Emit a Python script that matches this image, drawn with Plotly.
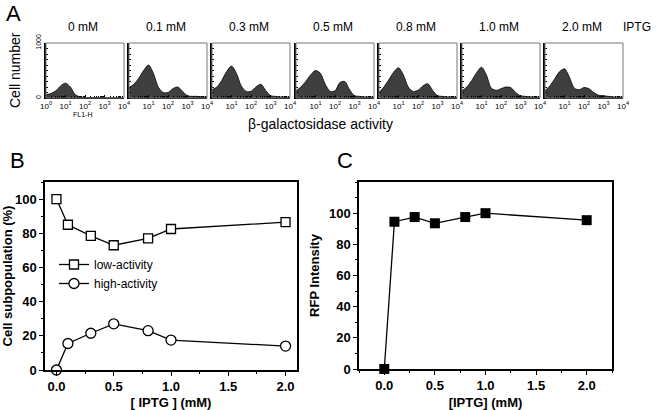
import plotly.graph_objects as go

W, H = 656, 410
FONT = "Arial, Liberation Sans, sans-serif"

# ---------- panel A: flow histograms (log10 FL1-H grid, counts) ----------
iptg_labels = ["0 mM", "0.1 mM", "0.3 mM", "0.5 mM", "0.8 mM", "1.0 mM", "2.0 mM"]
log_fl1 = [0, 0.25, 0.5, 0.75, 1.0, 1.25, 1.5, 1.75, 2.0, 2.25, 2.5, 2.75, 3.0, 3.25, 3.5, 3.75, 4.0]
hist_0 = [60, 80, 130, 220, 270, 200, 60, 20, 10, 10, 8, 6, 5, 4, 3, 2, 0]
hist_01 = [190, 250, 360, 500, 600, 450, 200, 100, 100, 170, 200, 120, 40, 30, 30, 20, 20]
hist_03 = [150, 200, 320, 480, 580, 450, 220, 120, 120, 200, 250, 140, 40, 30, 20, 20, 10]
hist_05 = [130, 200, 300, 420, 500, 450, 250, 120, 130, 280, 300, 150, 40, 30, 20, 20, 10]
hist_08 = [100, 200, 330, 470, 550, 420, 200, 120, 140, 220, 260, 140, 40, 30, 20, 20, 10]
hist_10 = [130, 200, 320, 460, 560, 420, 180, 140, 170, 200, 190, 100, 40, 30, 20, 20, 10]
hist_20 = [130, 220, 350, 480, 530, 380, 180, 150, 190, 170, 100, 50, 40, 30, 20, 20, 10]
histograms = [hist_0, hist_01, hist_03, hist_05, hist_08, hist_10, hist_20]

# ---------- panel B: subpopulations ----------
iptg_mM = [0.0, 0.1, 0.3, 0.5, 0.8, 1.0, 2.0]
low_activity = [100, 85, 78.5, 73, 77, 82.5, 86.5]
high_activity = [0, 15.5, 21.5, 27, 23, 17.5, 14]

# ---------- panel C: RFP ----------
rfp_intensity = [0, 94.5, 97.5, 93.5, 97.5, 100, 95.5]


def px_x(p):
    return p / W


def px_y(p):
    return 1 - p / H


fig = go.Figure()
layout = {}
shapes = []
annotations = []

box_left = [46, 129, 212, 296, 379, 462, 545]
box_w = 78
box_top, box_bot = 43, 98

for i, (lab, counts) in enumerate(zip(iptg_labels, histograms)):
    n = i + 1
    xa = "xaxis" if n == 1 else f"xaxis{n}"
    ya = "yaxis" if n == 1 else f"yaxis{n}"
    xs = "x" if n == 1 else f"x{n}"
    ys = "y" if n == 1 else f"y{n}"
    fig.add_trace(go.Scatter(
        x=[10 ** v for v in log_fl1], y=counts, xaxis=xs, yaxis=ys,
        mode="lines", line=dict(color="black", width=0.8, shape="spline", smoothing=0.8),
        fill="tozeroy", fillcolor="#3f3f3f", showlegend=False, hoverinfo="skip"))
    if i == 0:
        tv = [1, 10, 100, 1000, 10000]
        tt = ["10<sup>0</sup>", "10<sup>1</sup>", "10<sup>2</sup>", "10<sup>3</sup>", "10<sup>4</sup>"]
    else:
        tv = [10, 100, 1000, 10000]
        tt = ["10<sup>1</sup>", "10<sup>2</sup>", "10<sup>3</sup>", "10<sup>4</sup>"]
    layout[xa] = dict(
        domain=[px_x(box_left[i]), px_x(box_left[i] + box_w)], anchor=ys, automargin=False,
        type="log", range=[0, 4], tickvals=tv, ticktext=tt,
        ticks="inside", ticklen=3, tickcolor="black",
        minor=dict(ticks="inside", ticklen=2, dtick="D1", tickcolor="black"),
        showgrid=False, zeroline=False, showline=True, linecolor="black", linewidth=1,
        tickfont=dict(family=FONT, size=8, color="black"))
    layout[ya] = dict(
        domain=[px_y(box_bot), px_y(box_top)], anchor=xs, range=[0, 1000], automargin=False,
        tickvals=[0, 1000], ticktext=["0", "1000"] if i == 0 else ["", ""],
        tickangle=-90, ticks="inside", ticklen=4, tickcolor="black",
        minor=dict(ticks="inside", ticklen=2, dtick=100, tickcolor="black"),
        showgrid=False, zeroline=False, showline=True, linecolor="black", linewidth=2,
        tickfont=dict(family=FONT, size=7, color="black"))
    shapes.append(dict(type="rect", xref=f"{xs} domain", yref=f"{ys} domain",
                       x0=0, x1=1, y0=0, y1=1, line=dict(color="#777", width=1)))
    annotations.append(dict(x=px_x(box_left[i] + box_w / 2 - 2), y=px_y(27),
                            text=lab, font=dict(family=FONT, size=12, color="black")))

annotations += [
    dict(x=px_x(637), y=px_y(27), text="IPTG", font=dict(family=FONT, size=12, color="black")),
    dict(x=px_x(13), y=px_y(13), text="A", font=dict(family=FONT, size=22, color="black")),
    dict(x=px_x(15), y=px_y(70), text="Cell number", textangle=-90,
         font=dict(family=FONT, size=14, color="black")),
    dict(x=px_x(320), y=px_y(124), text="β-galactosidase activity",
         font=dict(family=FONT, size=14, color="black")),
    dict(x=px_x(82), y=px_y(114), text="FL1-H", font=dict(family=FONT, size=7, color="black")),
    dict(x=px_x(17), y=px_y(160), text="B", font=dict(family=FONT, size=22, color="black")),
    dict(x=px_x(345), y=px_y(160), text="C", font=dict(family=FONT, size=22, color="black")),
]
for a in annotations:
    a.update(xref="paper", yref="paper", showarrow=False, xanchor="center", yanchor="middle")

# ---------- panel B ----------
fig.add_trace(go.Scatter(
    x=iptg_mM, y=low_activity, xaxis="x8", yaxis="y8", name="low-activity",
    mode="lines+markers", line=dict(color="black", width=1.3),
    marker=dict(symbol="square", size=9, color="white", line=dict(color="black", width=1.3))))
fig.add_trace(go.Scatter(
    x=iptg_mM, y=high_activity, xaxis="x8", yaxis="y8", name="high-activity",
    mode="lines+markers", line=dict(color="black", width=1.3),
    marker=dict(symbol="circle", size=10, color="white", line=dict(color="black", width=1.3)),
    cliponaxis=False))

# ---------- panel C ----------
fig.add_trace(go.Scatter(
    x=iptg_mM, y=rfp_intensity, xaxis="x9", yaxis="y9", showlegend=False,
    mode="lines+markers", line=dict(color="black", width=1.3),
    marker=dict(symbol="square", size=10, color="black"), cliponaxis=False))

bold_tick = dict(family=FONT, size=13, color="black")
common_x = dict(tickvals=[0, 0.5, 1.0, 1.5, 2.0], ticktext=["<b>%s</b>" % t for t in ["0.0", "0.5", "1.0", "1.5", "2.0"]],
                ticks="outside", ticklen=4, tickwidth=1.2, tickcolor="black", automargin=False,
                minor=dict(ticks="outside", ticklen=2, dtick=0.25, tickcolor="black"),
                showgrid=False, zeroline=False, showline=True, mirror=True,
                linecolor="black", linewidth=1.5, tickfont=bold_tick)
common_y = dict(ticks="outside", ticklen=4, tickwidth=1.2, tickcolor="black", automargin=False,
                minor=dict(ticks="outside", ticklen=2, dtick=10, tickcolor="black"),
                showgrid=False, zeroline=False, showline=True, mirror=True,
                linecolor="black", linewidth=1.5, tickfont=bold_tick,
                tickvals=[0, 20, 40, 60, 80, 100], ticktext=["<b>%d</b>" % v for v in [0, 20, 40, 60, 80, 100]])
title_font = dict(family=FONT, size=13, color="black")

layout["xaxis8"] = dict(common_x, domain=[px_x(45), px_x(297)], anchor="y8", range=[-0.1, 2.1],
                        title=dict(text="<b>[ IPTG ] (mM)</b>", font=title_font, standoff=10))
layout["yaxis8"] = dict(common_y, domain=[px_y(370), px_y(182)], anchor="x8", range=[0, 110],
                        title=dict(text="<b>Cell subpopulation (%)</b>", font=title_font, standoff=5))
layout["xaxis9"] = dict(common_x, domain=[px_x(359), px_x(612)], anchor="y9", range=[-0.25, 2.25],
                        title=dict(text="<b>[IPTG] (mM)</b>", font=title_font, standoff=10))
layout["yaxis9"] = dict(common_y, domain=[px_y(369), px_y(182)], anchor="x9", range=[0, 120],
                        title=dict(text="<b>RFP Intensity</b>", font=title_font, standoff=6))

fig.update_layout(
    width=W, height=H, margin=dict(l=0, r=0, t=0, b=0),
    paper_bgcolor="white", plot_bgcolor="white",
    shapes=shapes, annotations=annotations,
    legend=dict(x=px_x(54), y=px_y(250), xanchor="left", yanchor="top",
                bgcolor="rgba(0,0,0,0)", font=dict(family=FONT, size=12, color="black"),
                itemwidth=30, tracegroupgap=0),
    **layout)

# page body has a default 8px margin; drop it so the figure fills the window
fig.write_html("out.html", config={"displayModeBar": False},
               post_script="document.body.style.margin='0';")
